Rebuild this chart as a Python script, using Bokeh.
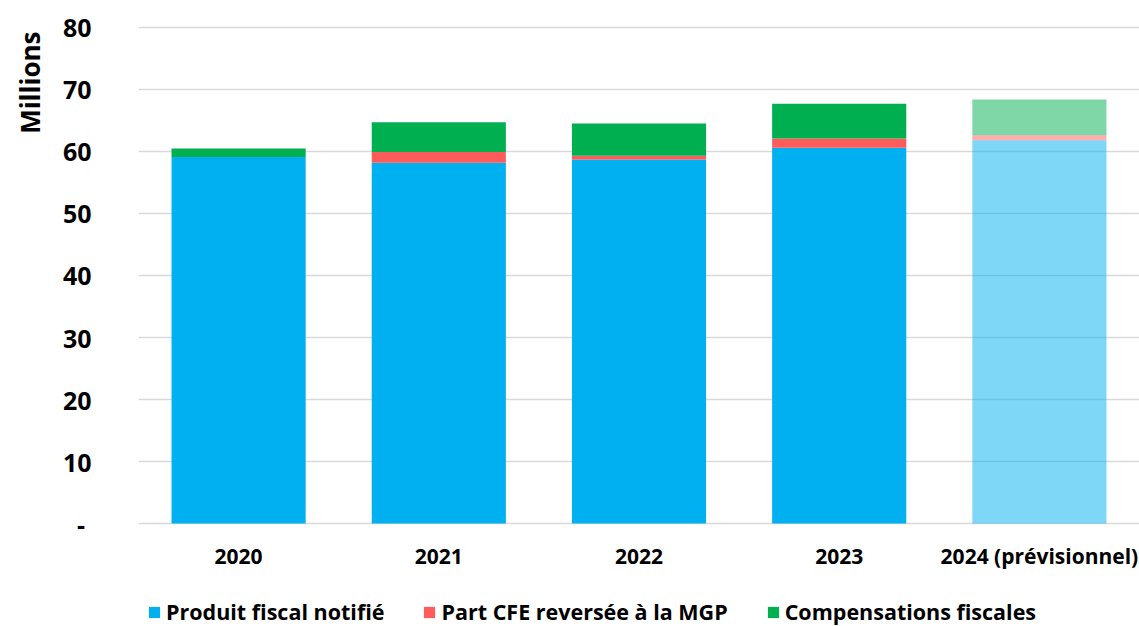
from bokeh.plotting import figure
from bokeh.models import ColumnDataSource, FactorRange, Range1d, Legend, LegendItem, Title
from bokeh.core.properties import value
from bokeh.embed import file_html
from bokeh.resources import INLINE

years = ["2020", "2021", "2022", "2023", "2024 (prévisionnel)"]
produit = [59.1, 58.2, 58.7, 60.6, 61.8]
part_cfe = [0.0, 1.7, 0.6, 1.5, 0.8]
compensations = [1.4, 4.8, 5.2, 5.6, 5.8]
alphas = [1.0, 1.0, 1.0, 1.0, 0.5]
series = ["produit", "part_cfe", "compensations"]
labels = ["Produit fiscal notifié", "Part CFE reversée à la MGP", "Compensations fiscales"]
colors = ["#00B0F0", "#FF5B5B", "#00B050"]
yticks = [0, 10, 20, 30, 40, 50, 60, 70, 80]

FONT = "Open Sans"

source = ColumnDataSource(dict(years=years, produit=produit, part_cfe=part_cfe,
                               compensations=compensations, alpha=alphas))

# frame reaches the bottom of the page; value 0 sits 103 px above it
p = figure(x_range=FactorRange(*years, range_padding=0), y_range=Range1d(-16.61, 80.32),
           frame_width=1001, frame_height=601, output_backend="svg", toolbar_location=None,
           x_axis_location=None,
           min_border_left=138, min_border_right=0, min_border_top=25, min_border_bottom=0)
p.outline_line_color = None

rs = p.vbar_stack(series, x="years", width=0.67, source=source, fill_color=colors,
                  line_color=None, fill_alpha="alpha")

# category labels under the baseline
p.text(x="years", y=-5.3, text="years", source=source, text_align="center",
       text_baseline="middle", text_font=value(FONT), text_font_style="bold",
       text_font_size="21px", text_color="#000000")

p.xgrid.grid_line_color = None
p.ygrid.grid_line_color = "#D9D9D9"
p.ygrid.grid_line_width = 1.5
p.yaxis.ticker = yticks
p.yaxis.major_label_overrides = {0: "-\u00a0"}
p.yaxis.axis_line_color = None
p.yaxis.major_tick_line_color = None
p.yaxis.minor_tick_line_color = None
p.yaxis.major_label_text_font = FONT
p.yaxis.major_label_text_font_style = "bold"
p.yaxis.major_label_text_font_size = "25px"
p.yaxis.major_label_text_color = "#000000"
p.yaxis.major_label_standoff = 41

p.add_layout(Title(text="Millions", align="right", vertical_align="middle",
                   text_font=FONT, text_font_style="bold",
                   text_font_size="26px", text_color="#000000", offset=6,
                   standoff=21), "left")

legend = Legend(items=[LegendItem(label=l, renderers=[r]) for l, r in zip(labels, rs)],
                orientation="horizontal", location=(9, 0),
                label_text_font=FONT, label_text_font_style="bold", label_text_font_size="21.5px",
                label_text_color="#000000", glyph_width=14, glyph_height=14,
                spacing=38, padding=0, margin=0, border_line_color=None,
                background_fill_alpha=0, label_standoff=5)
p.add_layout(legend, "center")

open("out.html", "w").write(file_html(p, INLINE))
